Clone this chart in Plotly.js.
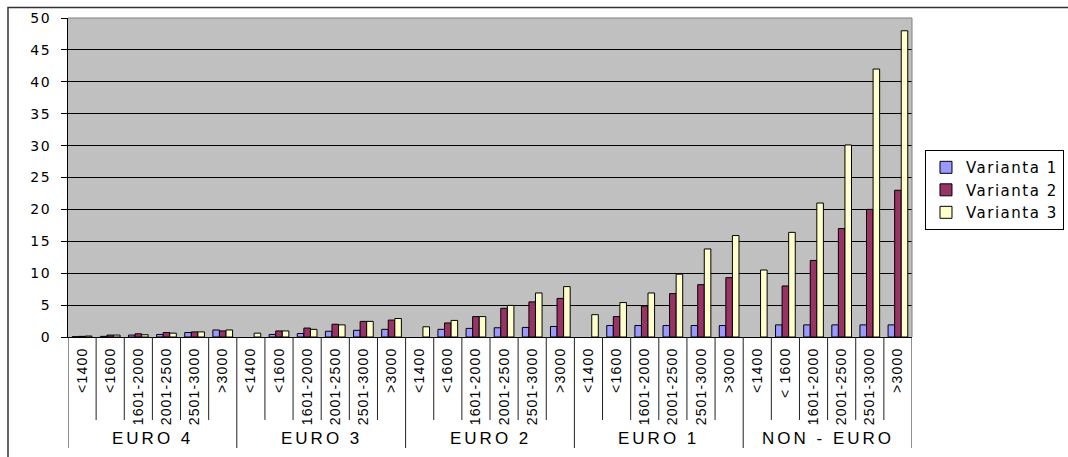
<!DOCTYPE html>
<html>
<head>
<meta charset="utf-8">
<script src="https://cdn.plot.ly/plotly-3.0.1.min.js"></script>
<style>
  html, body { margin: 0; padding: 0; background: #ffffff; }
  #chart { width: 1068px; height: 457px; }
  text.legendtext { letter-spacing: 1.5px; }
  text.annotation-text { letter-spacing: 3px; }
  g.ytick text { letter-spacing: 1.5px; }
  g.xtick text { letter-spacing: 1.2px; }
</style>
</head>
<body>
<div id="chart"></div>
<script>
// Emission standard groups and engine displacement classes
const groups = ['EURO 4', 'EURO 3', 'EURO 2', 'EURO 1', 'NON - EURO'];
const classLabels = [
  '<1400', '<1600', '1601-2000', '2001-2500', '2501-3000', '>3000',
  '<1400', '<1600', '1601-2000', '2001-2500', '2501-3000', '>3000',
  '<1400', '<1600', '1601-2000', '2001-2500', '2501-3000', '>3000',
  '<1400', '<1600', '1601-2000', '2001-2500', '2501-3000', '>3000',
  '<1400', '< 1600', '1601-2000', '2001-2500', '2501-3000', '>3000'
];

// Values per variant, in the order of classLabels (null = no bar)
const varianta1 = [
  0.05, 0.1, 0.3, 0.4, 0.7, 1.1,
  null, 0.4, 0.55, 0.9, 1.05, 1.2,
  null, 1.2, 1.35, 1.45, 1.5, 1.65,
  null, 1.8, 1.8, 1.8, 1.8, 1.8,
  null, 1.9, 1.9, 1.9, 1.9, 1.9
];
const varianta2 = [
  0.1, 0.3, 0.5, 0.7, 0.8, 0.95,
  null, 0.95, 1.4, 2.0, 2.45, 2.65,
  null, 2.2, 3.2, 4.5, 5.5, 6.05,
  null, 3.2, 4.85, 6.8, 8.2, 9.3,
  null, 8.0, 12.0, 17.0, 20.0, 23.0
];
const varianta3 = [
  0.15, 0.3, 0.35, 0.6, 0.8, 1.1,
  0.6, 0.95, 1.2, 1.9, 2.45, 2.9,
  1.6, 2.6, 3.2, 4.95, 6.9, 7.9,
  3.5, 5.4, 6.9, 9.85, 13.8, 15.9,
  10.5, 16.4, 21.0, 30.1, 42.0, 48.0
];

const seriesNames = ['Varianta 1', 'Varianta 2', 'Varianta 3'];
const seriesColors = ['#9999FF', '#993366', '#FFFFCC'];
const yTicks = [0, 5, 10, 15, 20, 25, 30, 35, 40, 45, 50];

const perGroup = classLabels.length / groups.length;
const positions = classLabels.map((_, i) => i);

const traces = [varianta1, varianta2, varianta3].map((vals, k) => ({
  type: 'bar',
  name: seriesNames[k],
  x: positions,
  y: vals,
  marker: { color: seriesColors[k], line: { color: '#000000', width: 1 } },
  hoverinfo: 'x+y+name'
}));

// Category separators under the axis: short ones between classes, long ones between groups
const shapes = [];
for (let b = 0; b <= classLabels.length; b++) {
  const isGroupEdge = b % perGroup === 0;
  shapes.push({
    type: 'line', xref: 'x', yref: 'paper',
    x0: b - 0.5, x1: b - 0.5,
    y0: 0, y1: isGroupEdge ? -0.348 : -0.26,
    line: { color: '#222222', width: 1 }
  });
}
// Plot area frame (top and right edges)
shapes.push({ type: 'line', xref: 'paper', yref: 'paper', x0: 0, x1: 1, y0: 1, y1: 1,
  line: { color: '#808080', width: 1 }, layer: 'above' });
shapes.push({ type: 'line', xref: 'paper', yref: 'paper', x0: 1, x1: 1, y0: 0, y1: 1,
  line: { color: '#808080', width: 1 }, layer: 'above' });
// Outer chart frame
shapes.push({ type: 'rect', xref: 'paper', yref: 'paper',
  x0: -0.0711, x1: 1.4, y0: -0.6, y1: 1.033,
  line: { color: '#333333', width: 1.5 }, fillcolor: 'rgba(0,0,0,0)' });

const annotations = groups.map((g, gi) => ({
  text: g,
  xref: 'x', yref: 'paper',
  x: gi * perGroup + (perGroup - 1) / 2,
  y: -0.317,
  xanchor: 'center', yanchor: 'middle',
  showarrow: false,
  font: { family: 'Liberation Sans, Arial, sans-serif', size: 17, color: '#000000' }
}));

const layout = {
  width: 1068,
  height: 457,
  margin: { l: 68, r: 156, t: 18, b: 120, pad: 0, autoexpand: false },
  paper_bgcolor: '#ffffff',
  plot_bgcolor: '#C0C0C0',
  barmode: 'group',
  bargap: 0.3,
  bargroupgap: 0,
  showlegend: true,
  legend: {
    x: 1.0154, xanchor: 'left',
    y: 0.586, yanchor: 'top',
    bordercolor: '#000000', borderwidth: 1,
    bgcolor: '#ffffff',
    font: { family: 'DejaVu Sans, Verdana, sans-serif', size: 15, color: '#000000' },
    tracegroupgap: 0,
    itemwidth: 30
  },
  xaxis: {
    type: 'linear',
    range: [-0.5, classLabels.length - 0.5],
    tickmode: 'array',
    tickvals: positions,
    ticktext: classLabels,
    tickangle: -90,
    ticks: '',
    ticklabelstandoff: 4,
    showgrid: false,
    zeroline: false,
    showline: true,
    linecolor: '#000000',
    linewidth: 1,
    tickfont: { family: 'Liberation Sans, Arial, sans-serif', size: 14, color: '#000000' },
    fixedrange: true
  },
  yaxis: {
    range: [0, 50],
    tickmode: 'array',
    tickvals: yTicks,
    ticks: 'outside',
    ticklen: 6,
    tickcolor: '#000000',
    ticklabelstandoff: 7,
    showgrid: true,
    gridcolor: '#000000',
    gridwidth: 1,
    zeroline: false,
    showline: true,
    linecolor: '#000000',
    linewidth: 1,
    tickfont: { family: 'DejaVu Sans, Verdana, sans-serif', size: 14, color: '#000000' },
    fixedrange: true
  },
  shapes: shapes,
  annotations: annotations
};

Plotly.newPlot('chart', traces, layout, { displayModeBar: false, staticPlot: true });
</script>
</body>
</html>
